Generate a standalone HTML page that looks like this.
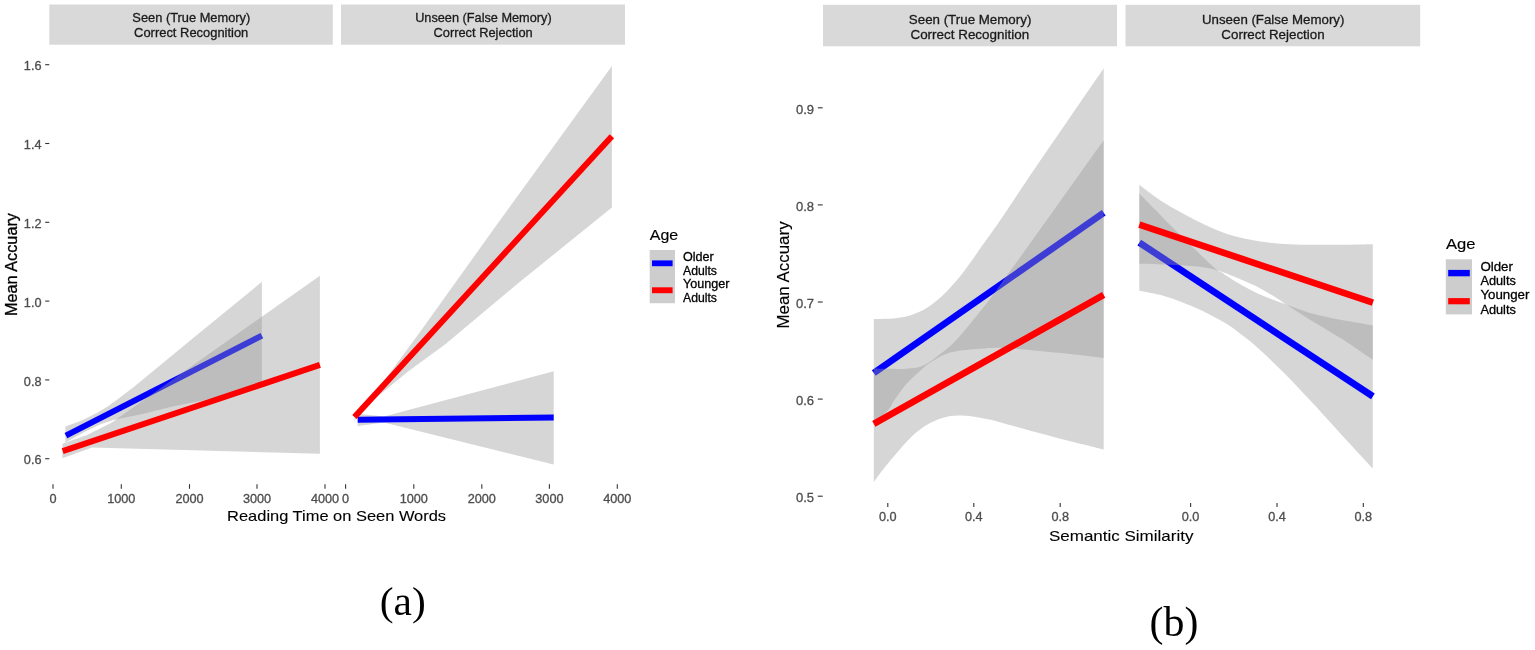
<!DOCTYPE html>
<html lang="en">
<head>
<meta charset="utf-8">
<title>Figure</title>
<style>
html,body{margin:0;padding:0;background:#fff;}
body{width:1535px;height:650px;overflow:hidden;}
svg{display:block;}
text{font-family:"Liberation Sans",Arial,sans-serif;stroke-width:0.3px;}
.st,.st2{stroke:#1a1a1a;}
.yl,.xl{stroke:#4d4d4d;}
.ttl,.lg,.lg2{stroke:#000;}
.strip{fill:#d9d9d9;}
.st{font-size:13px;fill:#1a1a1a;text-anchor:middle;}
.st2{font-size:13.6px;fill:#1a1a1a;text-anchor:middle;}
.tk{stroke:#333;stroke-width:1.1;}
.yl{font-size:12.7px;fill:#4d4d4d;text-anchor:end;}
.xl{font-size:12.7px;fill:#4d4d4d;text-anchor:middle;}
.ttl{font-size:16px;fill:#000;}
.lg{font-size:12.6px;fill:#000;}
.lg2{font-size:13.3px;fill:#000;}
.rib{fill:#999;fill-opacity:0.4;}
.bl{stroke:#0000ff;stroke-width:6.0;fill:none;}
.rd{stroke:#ff0000;stroke-width:6.0;fill:none;}
.cap{font-family:"Liberation Serif","Times New Roman",serif;font-size:43.5px;fill:#000;}
#panelB .bl,#panelB .rd{stroke-width:6.7;}
</style>
</head>
<body>
<svg width="1535" height="650" viewBox="0 0 1535 650">
<rect x="0" y="0" width="1535" height="650" fill="#ffffff"/>

<!-- ================= PANEL A ================= -->
<g id="panelA">
<rect class="strip" x="49.3" y="4.5" width="283.5" height="40.2"/>
<rect class="strip" x="341" y="4.5" width="284" height="40.2"/>
<text class="st" x="191.3" y="22.3" textLength="117.9" lengthAdjust="spacingAndGlyphs">Seen (True Memory)</text>
<text class="st" x="191.2" y="36.8" textLength="114.2" lengthAdjust="spacingAndGlyphs">Correct Recognition</text>
<text class="st" x="483.4" y="22.3" textLength="136.5" lengthAdjust="spacingAndGlyphs">Unseen (False Memory)</text>
<text class="st" x="483.1" y="36.8" textLength="99.2" lengthAdjust="spacingAndGlyphs">Correct Rejection</text>

<!-- y axis -->
<g class="tk">
<line x1="45.2" x2="49.3" y1="64.7" y2="64.7"/>
<line x1="45.2" x2="49.3" y1="143.5" y2="143.5"/>
<line x1="45.2" x2="49.3" y1="222.3" y2="222.3"/>
<line x1="45.2" x2="49.3" y1="301.1" y2="301.1"/>
<line x1="45.2" x2="49.3" y1="379.9" y2="379.9"/>
<line x1="45.2" x2="49.3" y1="458.7" y2="458.7"/>
</g>
<text class="yl" x="41.5" y="70.3">1.6</text>
<text class="yl" x="41.5" y="149.1">1.4</text>
<text class="yl" x="41.5" y="227.9">1.2</text>
<text class="yl" x="41.5" y="306.7">1.0</text>
<text class="yl" x="41.5" y="385.5">0.8</text>
<text class="yl" x="41.5" y="464.3">0.6</text>
<text class="ttl" transform="translate(16.6,264.5) rotate(-90)" text-anchor="middle" textLength="103" lengthAdjust="spacingAndGlyphs">Mean Accuary</text>

<!-- x axis -->
<g class="tk">
<line x1="53" x2="53" y1="484.2" y2="488.8"/>
<line x1="121.3" x2="121.3" y1="484.2" y2="488.8"/>
<line x1="189.5" x2="189.5" y1="484.2" y2="488.8"/>
<line x1="257" x2="257" y1="484.2" y2="488.8"/>
<line x1="325" x2="325" y1="484.2" y2="488.8"/>
<line x1="345.6" x2="345.6" y1="484.2" y2="488.8"/>
<line x1="413.8" x2="413.8" y1="484.2" y2="488.8"/>
<line x1="481.8" x2="481.8" y1="484.2" y2="488.8"/>
<line x1="549.4" x2="549.4" y1="484.2" y2="488.8"/>
<line x1="617.3" x2="617.3" y1="484.2" y2="488.8"/>
</g>
<text class="xl" x="53" y="502.6">0</text>
<text class="xl" x="121.3" y="502.6">1000</text>
<text class="xl" x="189.5" y="502.6">2000</text>
<text class="xl" x="257" y="502.6">3000</text>
<text class="xl" x="325" y="502.6">4000</text>
<text class="xl" x="345.6" y="502.6">0</text>
<text class="xl" x="413.8" y="502.6">1000</text>
<text class="xl" x="481.8" y="502.6">2000</text>
<text class="xl" x="549.4" y="502.6">3000</text>
<text class="xl" x="617.3" y="502.6">4000</text>
<text class="ttl" style="font-size:14.6px;stroke-width:0.1px" x="336.6" y="521.3" text-anchor="middle" textLength="219" lengthAdjust="spacingAndGlyphs">Reading Time on Seen Words</text>

<!-- facet 1 data: blue first, then red -->
<polygon class="rib" points="65.4,426.5 81.9,420.4 98.1,412.3 108.8,405.8 119.6,397.8 135,385.9 153.8,370.5 190.8,340 261.9,281.8 261.9,386 203.8,400.2 172.5,406.5 141.3,414.3 113.1,420 100,424.5 85,431.8 65.4,442.5"/>
<line class="bl" x1="65.9" y1="435.7" x2="261.9" y2="335.7"/>
<polygon class="rib" points="62.4,443.7 87,435 111.5,422.8 165,385 319.9,275.8 319.9,453.8 92,447.4 62.4,458.3"/>
<line class="rd" x1="62.7" y1="451.2" x2="319.9" y2="364.9"/>

<!-- facet 2 data -->
<polygon class="rib" points="357.7,413.8 384,416.4 553.7,371.3 553.7,464.6 384,422.4 357.7,426"/>
<line class="bl" x1="357.7" y1="419.7" x2="553.7" y2="417.4"/>
<polygon class="rib" points="354.5,413 368.5,401.2 393,368.8 422,329.3 493,230 611.9,66 611.9,207.5 520,281.7 445,344.6 408,371.5 368.5,404 354.5,421"/>
<line class="rd" x1="354.5" y1="417" x2="611.9" y2="136.3"/>

<!-- legend -->
<text class="ttl" style="font-size:14.7px;stroke-width:0.15px" x="649.8" y="239.6" textLength="28.4" lengthAdjust="spacingAndGlyphs">Age</text>
<rect x="649.7" y="250" width="25.3" height="53.2" fill="#cdcdcd"/>
<rect x="652" y="260.4" width="20.6" height="5.8" fill="#0000ff"/>
<rect x="652" y="287.3" width="20.6" height="5.9" fill="#ff0000"/>
<text class="lg" x="683" y="260.8">Older</text>
<text class="lg" x="683" y="274.5" textLength="34" lengthAdjust="spacingAndGlyphs">Adults</text>
<text class="lg" x="683" y="287.8">Younger</text>
<text class="lg" x="683" y="301.6" textLength="34" lengthAdjust="spacingAndGlyphs">Adults</text>
<text class="cap" style="font-size:40.4px" x="402.7" y="614.7" text-anchor="middle" textLength="46" lengthAdjust="spacingAndGlyphs">(a)</text>
</g>

<!-- ================= PANEL B ================= -->
<g id="panelB">
<rect class="strip" x="823" y="4.8" width="294" height="41.5"/>
<rect class="strip" x="1125.5" y="4.8" width="294.7" height="41.5"/>
<text class="st2" x="970.1" y="23.6" textLength="122.5" lengthAdjust="spacingAndGlyphs">Seen (True Memory)</text>
<text class="st2" x="969.8" y="38.7" textLength="118.7" lengthAdjust="spacingAndGlyphs">Correct Recognition</text>
<text class="st2" x="1273.2" y="23.6" textLength="142.4" lengthAdjust="spacingAndGlyphs">Unseen (False Memory)</text>
<text class="st2" x="1273" y="38.7" textLength="103.3" lengthAdjust="spacingAndGlyphs">Correct Rejection</text>

<g class="tk">
<line x1="817.8" x2="822.7" y1="107.8" y2="107.8"/>
<line x1="817.8" x2="822.7" y1="204.9" y2="204.9"/>
<line x1="817.8" x2="822.7" y1="302" y2="302"/>
<line x1="817.8" x2="822.7" y1="399.1" y2="399.1"/>
<line x1="817.8" x2="822.7" y1="496.2" y2="496.2"/>
</g>
<text class="yl" style="font-size:13px" x="814" y="113.7">0.9</text>
<text class="yl" style="font-size:13px" x="814" y="210.8">0.8</text>
<text class="yl" style="font-size:13px" x="814" y="307.9">0.7</text>
<text class="yl" style="font-size:13px" x="814" y="405.0">0.6</text>
<text class="yl" style="font-size:13px" x="814" y="502.1">0.5</text>
<text class="ttl" style="font-size:17.2px;stroke-width:0.15px" transform="translate(789.4,275) rotate(-90)" text-anchor="middle" textLength="107.2" lengthAdjust="spacingAndGlyphs">Mean Accuary</text>

<g class="tk">
<line x1="887.8" x2="887.8" y1="503" y2="507"/>
<line x1="973.8" x2="973.8" y1="503" y2="507"/>
<line x1="1060.2" x2="1060.2" y1="503" y2="507"/>
<line x1="1190.6" x2="1190.6" y1="503" y2="507"/>
<line x1="1277" x2="1277" y1="503" y2="507"/>
<line x1="1363.3" x2="1363.3" y1="503" y2="507"/>
</g>
<text class="xl" x="887.8" y="521.1">0.0</text>
<text class="xl" x="973.8" y="521.1">0.4</text>
<text class="xl" x="1060.2" y="521.1">0.8</text>
<text class="xl" x="1190.6" y="521.1">0.0</text>
<text class="xl" x="1277" y="521.1">0.4</text>
<text class="xl" x="1363.3" y="521.1">0.8</text>
<text class="ttl" style="font-size:15px;stroke-width:0.1px" x="1121.2" y="541.1" text-anchor="middle" textLength="144.4" lengthAdjust="spacingAndGlyphs">Semantic Similarity</text>

<!-- facet 1 -->
<path class="rib" d="M873.8,319.0 C877.4,318.9 889.0,318.9 895.4,318.2 C901.8,317.5 906.6,316.8 912.3,314.8 C917.9,312.8 923.6,310.1 929.3,306.3 C934.9,302.5 940.6,297.6 946.2,292.0 C951.8,286.4 957.5,279.7 963.1,272.5 C968.7,265.3 973.8,257.6 980.0,248.8 C986.2,240.1 991.4,233.1 1000.4,220.0 C1009.4,206.9 1016.7,195.3 1033.9,170.0 C1051.1,144.7 1092.1,85.2 1103.7,68.2 L1103.7,358.0 C1098.1,357.3 1081.6,355.2 1070.0,354.0 C1058.4,352.8 1044.8,351.6 1034.0,350.6 C1023.2,349.6 1013.2,348.4 1005.0,348.0 C996.8,347.6 990.8,348.1 985.0,348.4 C979.2,348.7 974.8,349.1 970.0,349.6 C965.2,350.1 959.8,350.6 956.2,351.2 C952.6,351.8 951.1,352.2 948.5,353.0 C945.9,353.8 943.4,354.9 940.8,356.2 C938.2,357.5 935.7,359.2 933.1,360.8 C930.5,362.4 928.0,363.9 925.4,366.0 C922.8,368.1 920.3,370.7 917.7,373.1 C915.1,375.5 912.2,378.1 910.0,380.3 C907.8,382.5 906.1,384.2 904.3,386.5 C902.4,388.8 900.7,391.3 898.9,393.8 C897.1,396.3 895.3,398.6 893.5,401.3 C891.7,404.0 891.5,406.3 888.2,409.9 C884.9,413.5 876.2,420.8 873.8,423.0 Z"/>
<line class="bl" x1="873.8" y1="373" x2="1103.7" y2="212.8"/>
<path class="rib" d="M873.8,368.4 C876.7,368.5 886.0,368.7 891.1,368.8 C896.2,368.9 901.1,369.1 904.3,369.0 C907.4,368.9 907.8,368.6 910.0,368.3 C912.2,368.1 915.1,368.1 917.7,367.5 C920.3,366.9 922.8,365.8 925.4,364.4 C928.0,363.0 930.5,361.2 933.1,359.4 C935.7,357.6 938.2,355.6 940.8,353.6 C943.4,351.6 945.9,349.8 948.5,347.5 C951.1,345.2 953.7,342.7 956.2,340.0 C958.8,337.3 961.2,334.6 963.8,331.5 C966.4,328.4 967.9,326.6 972.0,321.5 C976.1,316.4 982.9,308.3 988.5,301.0 C994.1,293.7 1000.1,284.9 1005.4,277.6 C1010.6,270.4 1010.9,270.2 1020.0,257.5 C1029.1,244.8 1046.0,221.1 1060.0,201.5 C1074.0,181.9 1096.4,150.4 1103.7,140.2 L1103.7,449.6 C1100.9,448.9 1092.3,446.7 1086.9,445.3 C1081.5,443.9 1076.5,442.7 1071.3,441.4 C1066.1,440.1 1060.8,438.9 1055.6,437.5 C1050.4,436.1 1045.2,434.7 1040.0,433.3 C1034.8,431.9 1029.5,430.3 1024.3,428.9 C1019.1,427.5 1013.9,426.1 1008.7,424.7 C1003.5,423.3 998.3,421.6 993.1,420.3 C987.9,419.1 982.6,418.0 977.4,417.2 C972.2,416.4 967.0,415.7 961.8,415.6 C956.6,415.6 951.4,415.7 946.2,416.9 C941.0,418.1 935.7,419.9 930.5,422.7 C925.3,425.5 920.1,429.1 914.9,433.6 C909.7,438.2 904.5,444.1 899.3,450.0 C894.1,455.9 887.9,463.4 883.6,468.8 C879.4,474.2 875.4,479.9 873.8,482.1 Z"/>
<line class="rd" x1="873.8" y1="423.8" x2="1103.7" y2="294.9"/>

<!-- facet 2 -->
<path class="rib" d="M1139.3,193.5 C1141.9,196.2 1149.8,204.2 1155.0,209.5 C1160.2,214.8 1164.5,219.3 1170.7,225.5 C1176.9,231.7 1184.7,239.4 1192.0,246.5 C1199.3,253.6 1209.6,263.6 1214.7,268.0 C1219.8,272.4 1219.3,270.9 1222.8,273.2 C1226.3,275.5 1231.0,278.8 1235.9,281.7 C1240.8,284.6 1246.7,288.0 1252.1,290.7 C1257.5,293.4 1262.7,295.6 1268.4,297.9 C1274.1,300.2 1279.6,302.1 1286.4,304.6 C1293.2,307.1 1300.0,310.1 1309.2,312.7 C1318.4,315.3 1331.1,317.9 1341.7,320.0 C1352.3,322.1 1367.6,324.4 1372.8,325.3 L1372.8,468.6 C1367.1,462.4 1348.8,442.8 1338.5,431.5 C1328.2,420.2 1320.0,411.0 1310.8,401.1 C1301.6,391.2 1292.3,381.2 1283.1,372.0 C1273.9,362.8 1262.6,352.1 1255.4,345.7 C1248.2,339.3 1244.6,337.0 1240.0,333.5 C1235.4,330.0 1232.5,327.5 1227.7,324.5 C1222.9,321.5 1216.0,318.0 1211.4,315.5 C1206.8,313.0 1204.1,311.6 1200.0,309.7 C1195.9,307.8 1193.2,306.5 1187.0,304.2 C1180.8,301.9 1170.5,297.8 1162.6,295.6 C1154.6,293.4 1143.2,291.6 1139.3,290.8 Z"/>
<line class="bl" x1="1139.3" y1="242.6" x2="1372.9" y2="396.4"/>
<path class="rib" d="M1139.3,184.8 C1141.8,186.7 1149.2,192.5 1154.4,196.2 C1159.6,199.9 1165.3,203.6 1170.7,206.8 C1176.1,210.1 1181.6,212.8 1187.0,215.7 C1192.4,218.5 1197.9,221.3 1203.3,223.9 C1208.7,226.5 1214.2,229.1 1219.6,231.2 C1225.0,233.3 1230.5,235.1 1235.9,236.6 C1241.3,238.1 1246.7,239.1 1252.1,240.1 C1257.5,241.1 1263.0,242.0 1268.4,242.6 C1273.8,243.2 1277.9,243.6 1284.7,243.9 C1291.5,244.2 1299.6,244.6 1309.1,244.7 C1318.6,244.8 1331.1,244.8 1341.7,244.7 C1352.3,244.6 1367.6,244.3 1372.8,244.2 L1372.8,359.8 C1370.3,358.1 1363.2,353.3 1358.0,349.8 C1352.8,346.3 1349.8,343.9 1341.7,338.8 C1333.6,333.7 1318.4,324.9 1309.2,319.2 C1300.0,313.5 1291.8,308.1 1286.4,304.6 C1281.0,301.1 1280.9,300.7 1276.6,298.0 C1272.2,295.3 1265.7,291.3 1260.3,288.4 C1254.9,285.5 1250.2,283.5 1244.0,280.8 C1237.8,278.1 1228.8,274.4 1222.8,272.3 C1216.8,270.2 1213.0,269.1 1208.2,268.1 C1203.4,267.1 1198.9,266.8 1194.0,266.3 C1189.1,265.8 1184.6,265.5 1178.9,265.2 C1173.2,264.9 1166.6,264.6 1160.0,264.4 C1153.4,264.2 1142.8,263.9 1139.3,263.8 Z"/>
<line class="rd" x1="1139.3" y1="224.6" x2="1372.9" y2="302.6"/>

<!-- legend -->
<text class="ttl" style="font-size:15.3px;stroke-width:0.15px" x="1446" y="248.8" textLength="29.5" lengthAdjust="spacingAndGlyphs">Age</text>
<rect x="1445.8" y="259.3" width="26.2" height="55.1" fill="#cdcdcd"/>
<rect x="1448.2" y="269.9" width="21.6" height="6.4" fill="#0000ff"/>
<rect x="1448.2" y="298.1" width="21.6" height="6.2" fill="#ff0000"/>
<text class="lg2" x="1480.4" y="270.8">Older</text>
<text class="lg2" x="1480.4" y="285.4" textLength="35.5" lengthAdjust="spacingAndGlyphs">Adults</text>
<text class="lg2" x="1480.4" y="299.3">Younger</text>
<text class="lg2" x="1480.4" y="313.6" textLength="35.5" lengthAdjust="spacingAndGlyphs">Adults</text>
<text class="cap" style="font-size:41.4px" x="1174" y="636.3" text-anchor="middle" textLength="48.8" lengthAdjust="spacingAndGlyphs">(b)</text>
</g>
</svg>
</body>
</html>
